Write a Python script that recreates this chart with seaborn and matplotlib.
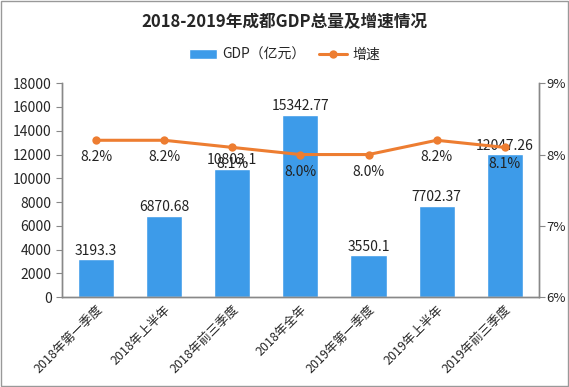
import matplotlib
matplotlib.use("Agg")
import matplotlib.pyplot as plt
import seaborn as sns
import pandas as pd
from matplotlib.patches import Rectangle

# Данные графика
categories = ["2018年第一季度", "2018年上半年", "2018年前三季度", "2018年全年",
              "2019年第一季度", "2019年上半年", "2019年前三季度"]
gdp = [3193.3, 6870.68, 10803.1, 15342.77, 3550.1, 7702.37, 12047.26]
growth = [8.2, 8.2, 8.1, 8.0, 8.0, 8.2, 8.1]
gdp_labels = ["3193.3", "6870.68", "10803.1", "15342.77", "3550.1", "7702.37", "12047.26"]
growth_labels = ["8.2%", "8.2%", "8.1%", "8.0%", "8.0%", "8.2%", "8.1%"]

df = pd.DataFrame({"cat": categories, "gdp": gdp, "growth": growth})

sns.set_style("white")
plt.rcParams['font.family'] = ['Noto Sans CJK SC', 'DejaVu Sans']

bar_color = "#3d9be9"
line_color = "#ed7d31"
grey = "#888888"

fig = plt.figure(figsize=(5.69, 3.87), dpi=100)
ax = fig.add_axes([0.109, 0.232, 0.838, 0.553])

sns.barplot(data=df, x="cat", y="gdp", color=bar_color, width=0.53, ax=ax,
            saturation=1, label="GDP（亿元）")
ax.set_ylim(0, 18000)
ax.set_yticks(range(0, 18001, 2000))
ax.set_xlim(-0.5, len(categories) - 0.5)

ax2 = ax.twinx()
sns.lineplot(x=range(len(categories)), y=df["growth"], color=line_color, marker="o",
             markersize=6, markeredgewidth=0, linewidth=2.2, ax=ax2, label="增速")
ax2.set_ylim(6, 9)
ax2.set_yticks([6, 7, 8, 9])
ax2.set_yticklabels(["6%", "7%", "8%", "9%"])
ax2.set_ylabel("")
ax.set_xlabel("")
ax.set_ylabel("")

# Подписи значений
for i, v in enumerate(gdp):
    ax.text(i, v + 120, gdp_labels[i], ha="center", va="bottom", fontsize=10, color="#222222")
for i, v in enumerate(growth):
    ax2.text(i, v - 0.14, growth_labels[i], ha="center", va="top", fontsize=10, color="#222222")

# Оси
for a in (ax, ax2):
    a.spines["top"].set_visible(False)
    for s in ("left", "right", "bottom"):
        a.spines[s].set_color(grey)
        a.spines[s].set_linewidth(1)
ax.tick_params(axis="y", length=4, color=grey, labelsize=10, left=True)
ax2.tick_params(axis="y", length=4, color=grey, labelsize=9.5, right=True, pad=1.5)
ax.set_xticks(range(len(categories)))
ax.set_xticklabels(categories, rotation=45, ha="right", rotation_mode="anchor", fontsize=9)
ax.tick_params(axis="x", length=0, pad=4)
ax.set_xticks([i - 0.5 for i in range(len(categories) + 1)], minor=True)
ax.tick_params(axis="x", which="minor", length=4, color=grey)

# Легенда
h1, l1 = ax.get_legend_handles_labels()
h2, l2 = ax2.get_legend_handles_labels()
if ax2.get_legend():
    ax2.get_legend().remove()
if ax.get_legend():
    ax.get_legend().remove()
fig.legend(h1 + h2, l1 + l2, loc="center", bbox_to_anchor=(0.5, 0.858), ncol=2,
           frameon=False, fontsize=10, handlelength=2.0, columnspacing=1.0,
           handletextpad=0.4)

fig.text(0.5, 0.943, "2018-2019年成都GDP总量及增速情况", ha="center", va="center",
         fontsize=12, fontweight="bold")

fig.patches.append(Rectangle((0.002, 0.002), 0.996, 0.996, transform=fig.transFigure,
                             fill=False, edgecolor="#999999", linewidth=1))

fig.savefig("out.png", dpi=100)
